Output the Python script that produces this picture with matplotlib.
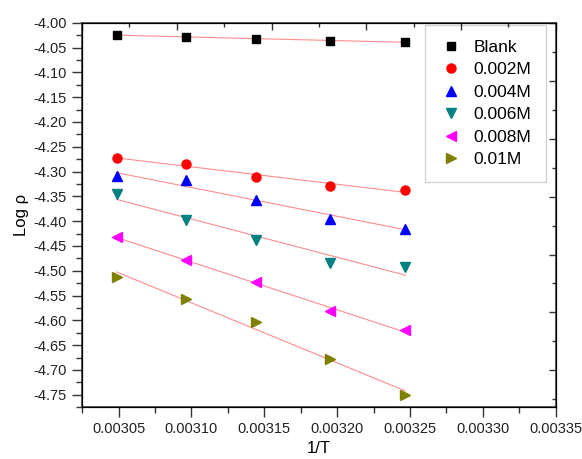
import numpy as np
import matplotlib
matplotlib.use("Agg")
import matplotlib.pyplot as plt
from matplotlib.ticker import MultipleLocator, FormatStrFormatter

plt.rcParams['font.family'] = ['Liberation Sans', 'DejaVu Sans']

# temperatures 328..308 K -> 1/T
temps = [328, 323, 318, 313, 308]
inv_t = [1.0 / t for t in temps]

labels = ['Blank', '0.002M', '0.004M', '0.006M', '0.008M', '0.01M']
blank = [-4.025, -4.028, -4.033, -4.036, -4.039]
c002 = [-4.272, -4.285, -4.311, -4.329, -4.337]
c004 = [-4.310, -4.318, -4.357, -4.395, -4.415]
c006 = [-4.345, -4.397, -4.438, -4.484, -4.493]
c008 = [-4.433, -4.478, -4.523, -4.581, -4.620]
c010 = [-4.512, -4.558, -4.604, -4.678, -4.751]
series = [blank, c002, c004, c006, c008, c010]

colors = ['#000000', '#ff0000', '#0000ff', '#008080', '#ff00ff', '#808000']
markers = ['s', 'o', '^', 'v', '<', '>']
msizes = [6, 6.5, 7, 7, 7, 7]

fig = plt.figure(figsize=(5.82, 4.59), dpi=100)
ax = fig.add_axes([0.141, 0.113, 0.814, 0.8375])

x = np.array(inv_t)
for ys, c, m, ms, lab in zip(series, colors, markers, msizes, labels):
    ys = np.array(ys)
    k, b = np.polyfit(x, ys, 1)
    ax.plot(x, k * x + b, color='#ff8c8c', lw=0.8, zorder=2)
    ax.plot(x, ys, ls='none', marker=m, color=c, ms=ms, mec=c,
            label=lab, zorder=3)

ax.set_xlim(0.003025, 0.00335)
ax.set_ylim(-4.775, -4.0)
ax.xaxis.set_major_locator(MultipleLocator(0.00005))
ax.xaxis.set_minor_locator(MultipleLocator(0.000025))
ax.yaxis.set_major_locator(MultipleLocator(0.05))
ax.yaxis.set_minor_locator(MultipleLocator(0.025))
ax.xaxis.set_major_formatter(FormatStrFormatter('%.5f'))
ax.yaxis.set_major_formatter(FormatStrFormatter('%.2f'))
ax.tick_params(which='major', direction='out', length=7, width=1,
               labelsize=10.5, pad=4, colors='#333333', labelcolor='#222222')
ax.tick_params(which='minor', direction='out', length=4, width=1,
               colors='#333333')
for s in ax.spines.values():
    s.set_linewidth(1.1)
    s.set_color('#333333')

ax.set_xlabel('1/T', fontsize=12, labelpad=3)
ax.set_ylabel('Log ρ', fontsize=12, labelpad=3)

# mirrored axes with their own inward ticks
top = ax.twiny()
top.set_xlim(0, 5)
top.xaxis.set_major_locator(MultipleLocator(1))
top.xaxis.set_minor_locator(MultipleLocator(0.5))
top.tick_params(which='major', direction='in', length=5, width=1,
                labeltop=False, colors='#333333')
top.tick_params(which='minor', direction='in', length=3, width=1,
                colors='#333333')

right = ax.twinx()
right.set_ylim(-0.64, 6.01)
right.yaxis.set_major_locator(MultipleLocator(1))
right.yaxis.set_minor_locator(MultipleLocator(0.5))
right.tick_params(which='major', direction='in', length=5, width=1,
                  labelright=False, colors='#333333')
right.tick_params(which='minor', direction='in', length=3, width=1,
                  colors='#333333')

leg = ax.legend(loc='upper right', bbox_to_anchor=(0.979, 0.994),
                borderaxespad=0, fontsize=12.5, frameon=True, fancybox=False,
                borderpad=0.85, labelspacing=0.42, handlelength=1.3,
                handletextpad=0.64)
leg.get_frame().set_edgecolor('#c8c8c8')
leg.get_frame().set_linewidth(1.0)
leg.set_zorder(5)

fig.savefig('out.png', dpi=100)
